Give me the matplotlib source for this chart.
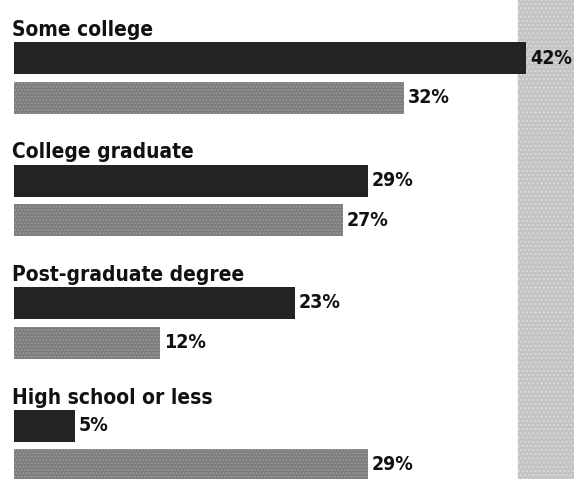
import matplotlib.pyplot as plt

# Education levels, top to bottom, with the two shares for each
categories = ['Some college', 'College graduate', 'Post-graduate degree', 'High school or less']
dark_values = [42, 29, 23, 5]
gray_values = [32, 27, 12, 29]

px_per_pct = 12.2
left_px = 14
fig_w, fig_h = 574, 479

fig = plt.figure(figsize=(fig_w / 100, fig_h / 100), dpi=100)
ax = fig.add_axes([0, 0, 1, 1])
ax.set_xlim(-left_px / px_per_pct, (fig_w - left_px) / px_per_pct)
ax.set_ylim(fig_h, 0)
ax.axis('off')

font = {'family': 'DejaVu Sans', 'fontstretch': 'condensed', 'fontweight': 'bold'}

# textured gray band along the right edge
band_left = (518 - left_px) / px_per_pct
ax.axvspan(band_left, 50, color='#c4c4c4', zorder=0)
ax.axvspan(band_left, 50, facecolor='none', edgecolor='#dadada', hatch='....',
           linewidth=0, zorder=0)

group_gap = 122.5
first_center = 58
bar_h = 32
offset = 39.5

for i, cat in enumerate(categories):
    y_dark = first_center + i * group_gap
    y_gray = y_dark + offset

    ax.barh(y_dark, dark_values[i], height=bar_h, color='#232323', zorder=2)
    ax.barh(y_gray, gray_values[i], height=bar_h, color='#7c7c7c',
            edgecolor='#9a9a9a', hatch='.....', linewidth=0, zorder=2)

    ax.text(-0.15, y_dark - 22, cat, fontsize=15, color='#111111',
            va='baseline', ha='left', **font)
    ax.text(dark_values[i] + 0.3, y_dark, f'{dark_values[i]}%', fontsize=14,
            color='#111111', va='center', ha='left', zorder=3, **font)
    ax.text(gray_values[i] + 0.3, y_gray, f'{gray_values[i]}%', fontsize=14,
            color='#111111', va='center', ha='left', zorder=3, **font)

plt.savefig('out.png', dpi=100)
